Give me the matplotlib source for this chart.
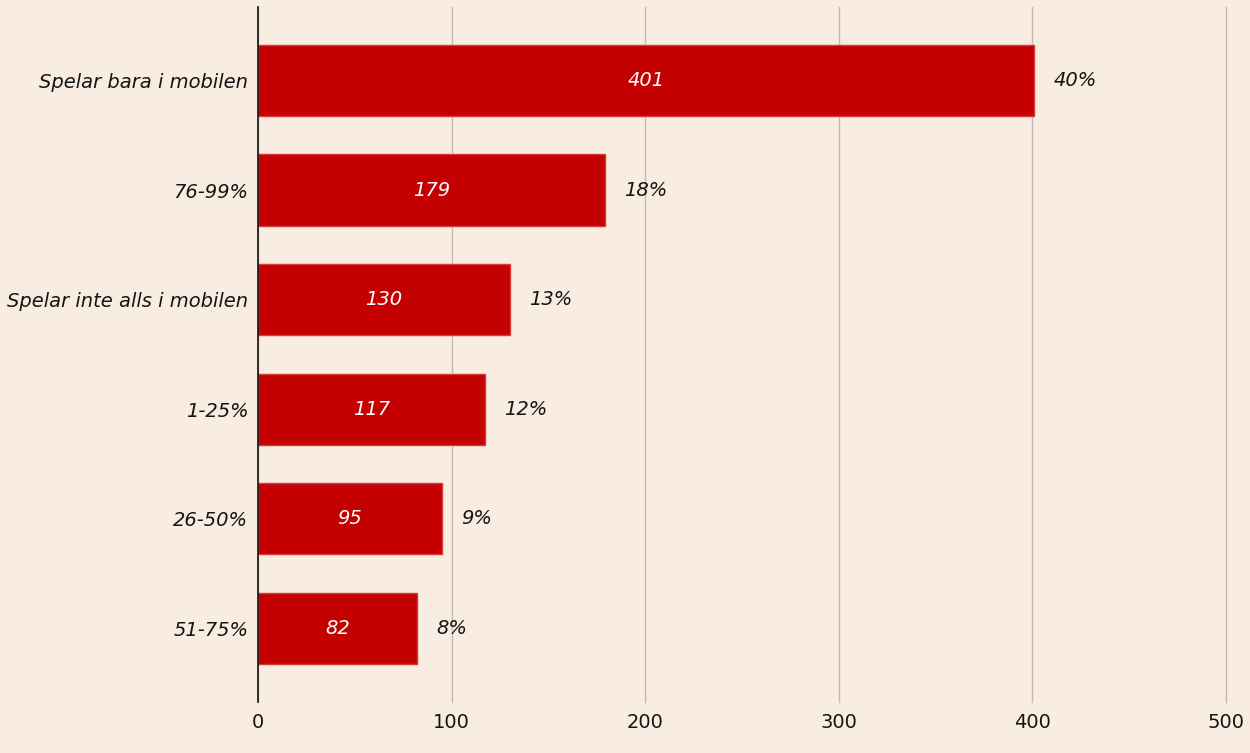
import matplotlib.pyplot as plt

plt.rcParams['font.family'] = ['DejaVu Sans']

categories = ['Spelar bara i mobilen', '76-99%', 'Spelar inte alls i mobilen', '1-25%', '26-50%', '51-75%']
counts = [401, 179, 130, 117, 95, 82]
shares = ['40%', '18%', '13%', '12%', '9%', '8%']
xticks = [0, 100, 200, 300, 400, 500]

bg = '#f9ede2'
fig = plt.figure(figsize=(12.5, 7.53), dpi=100, facecolor=bg)
ax = fig.add_axes([0.2064, 0.068, 0.7744, 0.9227], facecolor=bg)

pos = range(len(categories))
ax.barh(pos, counts, height=0.65, color='#c40000', edgecolor='#d63a3a', linewidth=1, zorder=3)

fs = 14
for i, (c, s) in enumerate(zip(counts, shares)):
    ax.text(c / 2, i, str(c), ha='center', va='center', color='white',
            fontsize=fs, style='italic', zorder=4)
    ax.text(c + 10, i, s, ha='left', va='center', color='#151515',
            fontsize=fs, style='italic', zorder=4)

ax.set_xlim(0, 500)
ax.set_ylim(5.67, -0.67)
ax.set_yticks(list(pos))
ax.set_yticklabels(categories, fontsize=fs, style='italic', color='#151515')
ax.set_xticks(xticks)
ax.set_xticklabels([str(t) for t in xticks], fontsize=fs, color='#151515')
ax.tick_params(axis='y', length=0, pad=7)
ax.tick_params(axis='x', length=0, pad=8)

ax.grid(axis='x', color='#c2bab3', linewidth=1.0, zorder=0)
for gl in ax.get_xgridlines():
    gl.set_clip_on(False)
for side in ['top', 'right', 'bottom']:
    ax.spines[side].set_visible(False)
ax.spines['left'].set_color('#111111')
ax.spines['left'].set_linewidth(1.2)
ax.spines['left'].set_zorder(5)

fig.savefig('out.png', dpi=100, facecolor=bg)
